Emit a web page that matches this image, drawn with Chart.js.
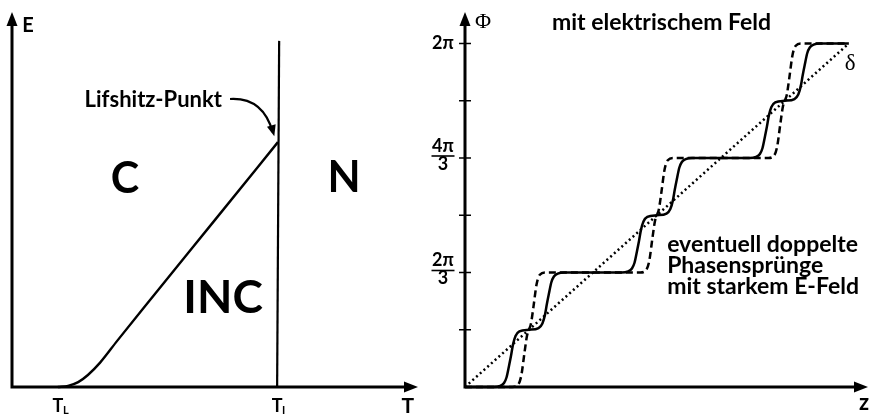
<!DOCTYPE html>
<html>
<head>
<meta charset="utf-8">
<script src="https://cdn.jsdelivr.net/npm/chart.js@4"></script>
<style>
  body { margin: 0; background: #fff; }
  #wrap { position: relative; width: 870px; height: 415px; }
  #links { position: absolute; left: 0; top: 0; }
  #rechts { position: absolute; left: 430px; top: 0; }
</style>
</head>
<body>
<div id="wrap">
  <canvas id="links" width="430" height="415"></canvas>
  <canvas id="rechts" width="440" height="415"></canvas>
</div>
<script>
// linkes Diagramm: Phasengrenzen E(T)
const grenzeT = [11.3, 13.8, 16.3, 18.7, 21.7, 25.9, 34.0, 49.8, 65.5];
const grenzeE = [0, 0.3, 1.3, 3.2, 6.5, 12.3, 23.2, 44.3, 65.3];
const linieT = [65.3, 65.8];
const linieE = [0, 92.3];
const tempTicks = [11.3, 65.3];
const tempSub = ['L', 'I'];

// rechtes Diagramm: Phase Phi(z), Phi in Einheiten von pi/3
const zGerade = [0, 6];
const phiGerade = [0, 6];

const zFeld = [0, 0.45, 0.55, 0.61, 0.65, 0.69, 0.72, 0.75, 0.79, 0.85, 1.0, 1.15, 1.21, 1.25, 1.28, 1.31, 1.35, 1.39, 1.45, 1.55,
  2.45, 2.55, 2.61, 2.65, 2.69, 2.72, 2.75, 2.79, 2.85, 3.0, 3.15, 3.21, 3.25, 3.28, 3.31, 3.35, 3.39, 3.45, 3.55,
  4.45, 4.55, 4.61, 4.65, 4.69, 4.72, 4.75, 4.79, 4.85, 5.0, 5.15, 5.21, 5.25, 5.28, 5.31, 5.35, 5.39, 5.45, 5.55, 6.0];
const phiFeld = [0, 0, 0.02, 0.07, 0.17, 0.38, 0.55, 0.74, 0.89, 0.97, 1.0, 1.03, 1.11, 1.26, 1.45, 1.62, 1.83, 1.93, 1.98, 2.0,
  2.0, 2.02, 2.07, 2.17, 2.38, 2.55, 2.74, 2.89, 2.97, 3.0, 3.03, 3.11, 3.26, 3.45, 3.62, 3.83, 3.93, 3.98, 4.0,
  4.0, 4.02, 4.07, 4.17, 4.38, 4.55, 4.74, 4.89, 4.97, 5.0, 5.03, 5.11, 5.26, 5.45, 5.62, 5.83, 5.93, 5.98, 6.0, 6.0];

const zStark = [0, 0.74, 0.83, 0.88, 0.93, 0.97, 1.0, 1.03, 1.07, 1.12, 1.17, 1.26,
  2.74, 2.83, 2.88, 2.93, 2.97, 3.0, 3.03, 3.07, 3.12, 3.17, 3.26,
  4.74, 4.83, 4.88, 4.93, 4.97, 5.0, 5.03, 5.07, 5.12, 5.17, 5.26, 6.0];
const phiStark = [0, 0, 0.04, 0.2, 0.6, 0.9, 1.0, 1.1, 1.4, 1.8, 1.96, 2.0,
  2.0, 2.04, 2.2, 2.6, 2.9, 3.0, 3.1, 3.4, 3.8, 3.96, 4.0,
  4.0, 4.04, 4.2, 4.6, 4.9, 5.0, 5.1, 5.4, 5.8, 5.96, 6.0, 6.0];

const phiTicks = [1, 2, 3, 4, 5, 6];
const phiLabelWerte = [2, 4, 6];
const phiZaehler = ['2π', '4π', '2π'];
const phiNenner = ['3', '3', ''];

const SANS = 'Lato, "Open Sans", sans-serif';
const SERIF = '"Liberation Serif", "DejaVu Serif", serif';

const punkte = (xs, ys) => xs.map((v, i) => ({ x: v, y: ys[i] }));

function pfeilSpitze(ctx, tx, ty, dx, dy, len, halb) {
  const l = Math.hypot(dx, dy);
  const ux = dx / l, uy = dy / l;
  ctx.beginPath();
  ctx.moveTo(tx, ty);
  ctx.lineTo(tx - ux * len - uy * halb, ty - uy * len + ux * halb);
  ctx.lineTo(tx - ux * len + uy * halb, ty - uy * len - ux * halb);
  ctx.closePath();
  ctx.fill();
}

function achsen(ctx, x, y) {
  const x0 = x.getPixelForValue(0), y0 = y.getPixelForValue(0);
  ctx.save();
  ctx.strokeStyle = '#000';
  ctx.fillStyle = '#000';
  ctx.lineWidth = 3;
  ctx.beginPath();
  ctx.moveTo(x0, y0 + 1.5);
  ctx.lineTo(x0, y.top + 8);
  ctx.moveTo(x0 - 1.5, y0);
  ctx.lineTo(x.right - 8, y0);
  ctx.stroke();
  pfeilSpitze(ctx, x0, y.top, 0, -1, 14, 5.5);
  pfeilSpitze(ctx, x.right, y0, 1, 0, 14, 5.5);
  ctx.restore();
}

function text(ctx, s, px, py, font, align) {
  ctx.font = font;
  ctx.textAlign = align || 'left';
  ctx.textBaseline = 'alphabetic';
  ctx.fillText(s, px, py);
}

const linksPlugin = {
  id: 'linksPlugin',
  afterDraw(chart) {
    const { ctx, scales: { x, y } } = chart;
    achsen(ctx, x, y);
    ctx.save();
    ctx.fillStyle = '#000';
    ctx.strokeStyle = '#000';
    // Achsenbeschriftungen
    text(ctx, 'E', x.getPixelForValue(2.5), y.getPixelForValue(94.7), 'bold 20px ' + SANS);
    text(ctx, 'T', x.getPixelForValue(97.5), y.bottom + 26, 'bold 21px ' + SANS, 'center');
    tempTicks.forEach((t, i) => {
      const px = x.getPixelForValue(t);
      text(ctx, 'T', px, y.bottom + 25, 'bold 18px ' + SANS, 'center');
      text(ctx, tempSub[i], px + 5, y.bottom + 27, 'bold 11px ' + SANS, 'left');
    });
    // Bereiche
    text(ctx, 'C', x.getPixelForValue(27.8), y.getPixelForValue(51.7), 'bold 43px ' + SANS, 'center');
    text(ctx, 'N', x.getPixelForValue(81.8), y.getPixelForValue(52), 'bold 43px ' + SANS, 'center');
    text(ctx, 'INC', x.getPixelForValue(52.0), y.getPixelForValue(19.7), 'bold 46px ' + SANS, 'center');
    // Lifshitz-Punkt mit Pfeil
    text(ctx, 'Lifshitz-Punkt', x.getPixelForValue(51.7), y.getPixelForValue(74.7), 'bold 22px ' + SANS, 'right');
    const sx = x.getPixelForValue(53.7), sy = y.getPixelForValue(76.8);
    const cx = x.getPixelForValue(61.8), cy = y.getPixelForValue(77.3);
    const ex = x.getPixelForValue(64.2), ey = y.getPixelForValue(68.0);
    ctx.lineWidth = 2.2;
    ctx.beginPath();
    ctx.moveTo(sx, sy);
    ctx.quadraticCurveTo(cx, cy, ex, ey);
    ctx.stroke();
    pfeilSpitze(ctx, x.getPixelForValue(64.6), y.getPixelForValue(66.9), ex - cx, ey - cy, 11, 4.5);
    ctx.restore();
  }
};

const rechtsPlugin = {
  id: 'rechtsPlugin',
  afterDraw(chart) {
    const { ctx, scales: { x, y } } = chart;
    achsen(ctx, x, y);
    const x0 = x.getPixelForValue(0);
    ctx.save();
    ctx.fillStyle = '#000';
    ctx.strokeStyle = '#000';
    ctx.lineWidth = 1.5;
    phiTicks.forEach(v => {
      const py = y.getPixelForValue(v);
      ctx.beginPath();
      ctx.moveTo(x0 - 6, py);
      ctx.lineTo(x0 + 6, py);
      ctx.stroke();
    });
    phiLabelWerte.forEach((v, i) => {
      const py = y.getPixelForValue(v);
      const mx = x0 - 22;
      if (phiNenner[i]) {
        text(ctx, phiZaehler[i], mx, py - 6, 'bold 18px ' + SANS, 'center');
        ctx.lineWidth = 1.6;
        ctx.beginPath();
        ctx.moveTo(mx - 11.5, py - 2);
        ctx.lineTo(mx + 11.5, py - 2);
        ctx.stroke();
        text(ctx, phiNenner[i], mx, py + 12, 'bold 18px ' + SANS, 'center');
      } else {
        text(ctx, phiZaehler[i], mx, py + 6, 'bold 18px ' + SANS, 'center');
      }
    });
    text(ctx, 'Φ', x.getPixelForValue(0.156), y.getPixelForValue(6.27), '22px ' + SERIF);
    text(ctx, 'mit elektrischem Feld', x.getPixelForValue(1.36), y.getPixelForValue(6.236), 'bold 23px ' + SANS);
    text(ctx, 'δ', x.getPixelForValue(6.02), y.getPixelForValue(5.54), '23px ' + SERIF, 'center');
    text(ctx, 'z', x.getPixelForValue(6.24), y.bottom + 23, 'bold 22px ' + SANS, 'center');
    const zeilen = ['eventuell doppelte', 'Phasensprünge', 'mit starkem E-Feld'];
    const basis = [2.358, 1.99, 1.624];
    zeilen.forEach((s, i) => text(ctx, s, x.getPixelForValue(3.16), y.getPixelForValue(basis[i]), 'bold 23px ' + SANS));
    ctx.restore();
  }
};

const basisOptionen = (pad, xmax, ymax) => ({
  responsive: false,
  animation: false,
  devicePixelRatio: 1,
  layout: { padding: pad },
  plugins: { legend: { display: false }, tooltip: { enabled: false } },
  elements: { point: { radius: 0 } },
  scales: {
    x: { type: 'linear', min: 0, max: xmax, display: false },
    y: { type: 'linear', min: 0, max: ymax, display: false }
  }
});

new Chart(document.getElementById('links'), {
  type: 'scatter',
  data: {
    datasets: [
      { data: punkte(grenzeT, grenzeE), showLine: true, borderColor: '#000', borderWidth: 2.4, cubicInterpolationMode: 'monotone', clip: false },
      { data: punkte(linieT, linieE), showLine: true, borderColor: '#000', borderWidth: 2.2, clip: false }
    ]
  },
  options: basisOptionen({ left: 12, top: 12, right: 12, bottom: 28 }, 100, 100),
  plugins: [linksPlugin]
});

new Chart(document.getElementById('rechts'), {
  type: 'scatter',
  data: {
    datasets: [
      { data: punkte(zGerade, phiGerade), showLine: true, borderColor: '#000', borderWidth: 2.5, borderDash: [2, 3], clip: false },
      { data: punkte(zStark, phiStark), showLine: true, borderColor: '#000', borderWidth: 2.5, borderDash: [7, 4], cubicInterpolationMode: 'monotone', clip: false },
      { data: punkte(zFeld, phiFeld), showLine: true, borderColor: '#000', borderWidth: 2.5, cubicInterpolationMode: 'monotone', clip: false }
    ]
  },
  options: basisOptionen({ left: 35, top: 12, right: 2, bottom: 28 }, 6.3, 6.55),
  plugins: [rechtsPlugin]
});
</script>
</body>
</html>
